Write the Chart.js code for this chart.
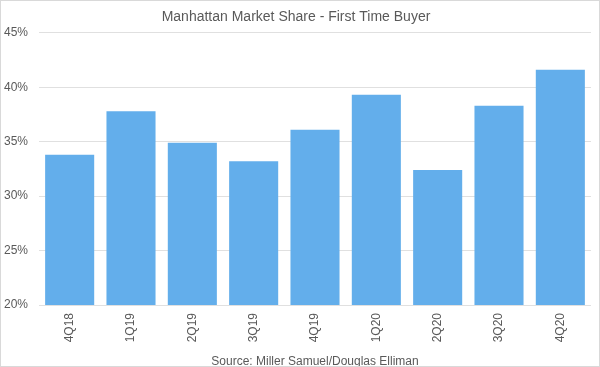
<!DOCTYPE html>
<html>
<head>
<meta charset="utf-8">
<script src="https://cdn.jsdelivr.net/npm/chart.js@4/dist/chart.umd.min.js"></script>
<style>
  body { margin: 0; background: #fff; }
  #wrap { width: 600px; height: 367px; box-sizing: border-box; border: 1px solid #d9d9d9; }
</style>
</head>
<body>
<div id="wrap"><canvas id="share" width="598" height="365"></canvas></div>
<script>
// quarters and first-time buyer share (%)
const quarters = ['4Q18', '1Q19', '2Q19', '3Q19', '4Q19', '1Q20', '2Q20', '3Q20', '4Q20'];
const firstTimeShare = [33.8, 37.8, 34.9, 33.2, 36.1, 39.3, 32.4, 38.3, 41.6];
const yTicks = [20, 25, 30, 35, 40, 45];

const textColor = '#595959';
const fontFamily = "'Liberation Sans', Arial, sans-serif";

const ctx = document.getElementById('share').getContext('2d');
new Chart(ctx, {
  type: 'bar',
  data: {
    labels: quarters,
    datasets: [{
      label: 'First Time Buyer',
      data: firstTimeShare,
      backgroundColor: '#63aeeb',
      borderWidth: 0,
      barPercentage: 0.8,
      categoryPercentage: 1.0
    }]
  },
  options: {
    responsive: false,
    animation: false,
    layout: { padding: { left: 0, right: 8, bottom: 0 } },
    plugins: {
      legend: { display: false },
      tooltip: { enabled: false },
      title: {
        display: true,
        text: 'Manhattan Market Share - First Time Buyer',
        color: textColor,
        font: { family: fontFamily, size: 14, weight: 'normal' },
        padding: { top: 8, bottom: 7 }
      }
    },
    scales: {
      x: {
        afterFit: axis => { axis.height = 61; },
        grid: { display: false, drawTicks: false },
        border: { display: false },
        ticks: {
          color: textColor,
          font: { family: fontFamily, size: 12 },
          minRotation: 90,
          maxRotation: 90,
          padding: 8
        },
        title: {
          display: true,
          text: 'Source: Miller Samuel/Douglas Elliman',
          color: textColor,
          font: { family: fontFamily, size: 12, lineHeight: 1 },
          padding: { top: 0, bottom: -2 }
        }
      },
      y: {
        min: yTicks[0],
        max: yTicks[yTicks.length - 1],
        afterBuildTicks: axis => { axis.ticks = yTicks.map(v => ({ value: v })); },
        afterFit: axis => { axis.width = 38; },
        grid: { color: '#e0e0e0', drawTicks: false },
        border: { display: false },
        ticks: {
          color: textColor,
          font: { family: fontFamily, size: 12 },
          padding: 11,
          callback: v => v + '%'
        }
      }
    }
  }
});
</script>
</body>
</html>
